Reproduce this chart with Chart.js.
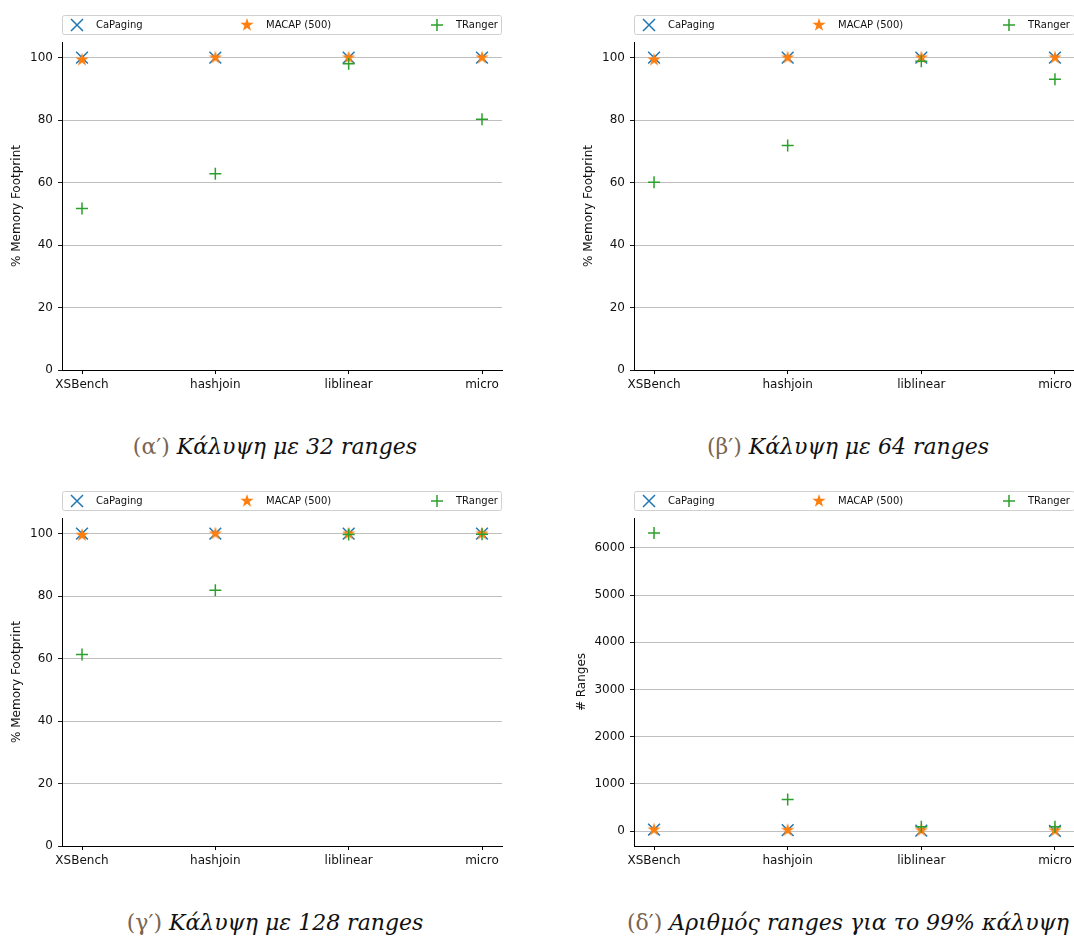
<!DOCTYPE html>
<html><head>
<meta charset="UTF-8">
<title>Κάλυψη μνήμης με ranges</title>
<script src="https://cdn.jsdelivr.net/npm/chart.js@4"></script>
<style>
  body {
    margin: 0;
    background: #fff;
    width: 1074px;
    height: 936px;
    overflow: hidden;
    position: relative;
  }
  canvas { position: absolute; }
  .cap {
    position: absolute;
    width: 560px;
    text-align: center;
    font-family: 'DejaVu Serif', serif;
    font-size: 22px;
    line-height: 26px;
    color: #111;
    white-space: nowrap;
  }
  .cap .num { color: #7a6450; }
</style>
</head>
<body>
  <canvas id="c32" width="537" height="400" style="left:0;top:0"></canvas>
  <canvas id="c64" width="538" height="400" style="left:572px;top:0"></canvas>
  <canvas id="c128" width="537" height="400" style="left:0;top:476px"></canvas>
  <canvas id="cnum" width="538" height="400" style="left:572px;top:476px"></canvas>

  <div class="cap" style="left:-5px;top:434px"><span class="num">(α′)</span> <i>Κάλυψη με 32 ranges</i></div>
  <div class="cap" style="left:568px;top:434px"><span class="num">(β′)</span> <i>Κάλυψη με 64 ranges</i></div>
  <div class="cap" style="left:-5px;top:910px"><span class="num">(γ′)</span> <i>Κάλυψη με 128 ranges</i></div>
  <div class="cap" style="left:568px;top:910px"><span class="num">(δ′)</span> <i>Αριθμός ranges για το 99% κάλυψη</i></div>

<script>
// benchmarks and series
const benchmarks = ['XSBench', 'hashjoin', 'liblinear', 'micro'];
const seriesNames = ['CaPaging', 'MACAP (500)', 'TRanger'];

// coverage (% memory footprint) with 32 ranges
const cov32CaPaging = [100, 100, 100, 100];
const cov32Macap    = [99.3, 100, 100, 100];
const cov32TRanger  = [51.7, 62.8, 98.0, 80.3];

// coverage with 64 ranges
const cov64CaPaging = [100, 100, 100, 100];
const cov64Macap    = [99.3, 100, 100, 100];
const cov64TRanger  = [60.1, 71.9, 98.8, 93.1];

// coverage with 128 ranges
const cov128CaPaging = [100, 100, 100, 100];
const cov128Macap    = [99.5, 100, 100, 100];
const cov128TRanger  = [61.3, 81.9, 99.7, 99.8];

// number of ranges needed for 99% coverage
const numCaPaging = [30, 20, 10, 5];
const numMacap    = [30, 20, 15, 10];
const numTRanger  = [6316, 669, 90, 90];

// tick labels
const pctTicks = [0, 20, 40, 60, 80, 100];
const rangeTicks = [0, 1000, 2000, 3000, 4000, 5000, 6000];

const colors = ['#1f77b4', '#ff7f0e', '#2ca02c'];

// filled five-point star, like the matplotlib '*' marker
function makeStar(color, R) {
  const s = Math.ceil(R * 2 + 2);
  const c = document.createElement('canvas');
  c.width = s; c.height = s;
  const g = c.getContext('2d');
  g.translate(s / 2, s / 2);
  g.beginPath();
  for (let i = 0; i < 10; i++) {
    const r = i % 2 === 0 ? R : R * 0.382;
    const a = -Math.PI / 2 + i * Math.PI / 5;
    g.lineTo(r * Math.cos(a), r * Math.sin(a));
  }
  g.closePath();
  g.fillStyle = color;
  g.fill();
  return c;
}
const starImg = makeStar(colors[1], 7);

function drawMarker(ctx, kind, x, y) {
  ctx.save();
  ctx.lineWidth = 1.5;
  if (kind === 0) {
    ctx.strokeStyle = colors[0];
    ctx.beginPath();
    ctx.moveTo(x - 6, y - 6); ctx.lineTo(x + 6, y + 6);
    ctx.moveTo(x - 6, y + 6); ctx.lineTo(x + 6, y - 6);
    ctx.stroke();
  } else if (kind === 1) {
    ctx.drawImage(starImg, x - starImg.width / 2, y - starImg.height / 2);
  } else {
    ctx.strokeStyle = colors[2];
    ctx.beginPath();
    ctx.moveTo(x - 6, y); ctx.lineTo(x + 6, y);
    ctx.moveTo(x, y - 6); ctx.lineTo(x, y + 6);
    ctx.stroke();
  }
  ctx.restore();
}

// legend box stretched across the top of the axes
const topLegend = {
  id: 'topLegend',
  afterDraw(chart) {
    const ctx = chart.ctx;
    const a = chart.chartArea;
    const x0 = a.left, w = a.right - a.left, y0 = 15, h = 19;
    ctx.save();
    ctx.beginPath();
    ctx.roundRect(x0 + 0.5, y0 + 0.5, w - 1, h, 2);
    ctx.fillStyle = 'rgba(255,255,255,0.8)';
    ctx.fill();
    ctx.strokeStyle = '#d0d0d0';
    ctx.lineWidth = 1;
    ctx.stroke();
    ctx.font = "10px 'DejaVu Sans'";
    ctx.fillStyle = '#111';
    ctx.textBaseline = 'middle';
    const offs = [15, 185, 375];
    seriesNames.forEach((name, i) => {
      const mx = x0 + offs[i], my = y0 + h / 2 + 0.5;
      drawMarker(ctx, i, mx, my);
      ctx.fillText(name, mx + 19, my);
    });
    ctx.restore();
  }
};

function pts(vals) {
  return vals.map((v, i) => ({ x: i, y: v }));
}

function makeChart(id, yTitle, titlePad, capPaging, macap, tranger, yMin, yMax, yTicks) {
  new Chart(document.getElementById(id), {
    type: 'scatter',
    data: {
      datasets: [
        { label: seriesNames[0], data: pts(capPaging), pointStyle: 'crossRot', pointRadius: 8.3,
          borderColor: colors[0], backgroundColor: colors[0], pointBorderWidth: 1.5, order: 3 },
        { label: seriesNames[1], data: pts(macap), pointStyle: starImg, pointRadius: 7,
          borderColor: colors[1], backgroundColor: colors[1], order: 2 },
        { label: seriesNames[2], data: pts(tranger), pointStyle: 'cross', pointRadius: 6,
          borderColor: colors[2], backgroundColor: colors[2], pointBorderWidth: 1.5, order: 1 }
      ]
    },
    options: {
      responsive: false,
      animation: false,
      devicePixelRatio: 1,
      layout: { padding: { left: 0, right: 35, top: 42, bottom: 0 } },
      plugins: { legend: { display: false }, tooltip: { enabled: false } },
      scales: {
        x: {
          type: 'linear',
          min: -0.15,
          max: 3.15,
          afterBuildTicks: ax => { ax.ticks = benchmarks.map((_, i) => ({ value: i })); },
          afterFit: ax => { ax.height = 30; },
          ticks: {
            callback: v => benchmarks[v],
            autoSkip: false, maxRotation: 0, padding: 4,
            color: '#111', font: { family: 'DejaVu Sans', size: 12 }
          },
          grid: { drawOnChartArea: false, drawTicks: true, tickLength: 4, tickColor: '#000' },
          border: { color: '#000', width: 1 }
        },
        y: {
          type: 'linear',
          min: yMin,
          max: yMax,
          afterBuildTicks: ax => { ax.ticks = yTicks.map(v => ({ value: v })); },
          afterFit: ax => { ax.width = 62; },
          ticks: {
            callback: v => String(v),
            padding: 5, color: '#111',
            font: { family: 'DejaVu Sans', size: 12 }
          },
          grid: { color: '#b8b8b8', lineWidth: 0.9, tickLength: 4, tickColor: '#000' },
          border: { color: '#000', width: 1 },
          title: {
            display: true, text: yTitle, color: '#111',
            font: { family: 'DejaVu Sans', size: 12 },
            padding: { top: titlePad, bottom: 0 }
          }
        }
      }
    },
    plugins: [topLegend]
  });
}

makeChart('c32', '% Memory Footprint', 10, cov32CaPaging, cov32Macap, cov32TRanger, 0, 105, pctTicks);
makeChart('c64', '% Memory Footprint', 10, cov64CaPaging, cov64Macap, cov64TRanger, 0, 105, pctTicks);
makeChart('c128', '% Memory Footprint', 10, cov128CaPaging, cov128Macap, cov128TRanger, 0, 105, pctTicks);
makeChart('cnum', '# Ranges', 3, numCaPaging, numMacap, numTRanger, -316, 6632, rangeTicks);
</script>
</body>
</html>
